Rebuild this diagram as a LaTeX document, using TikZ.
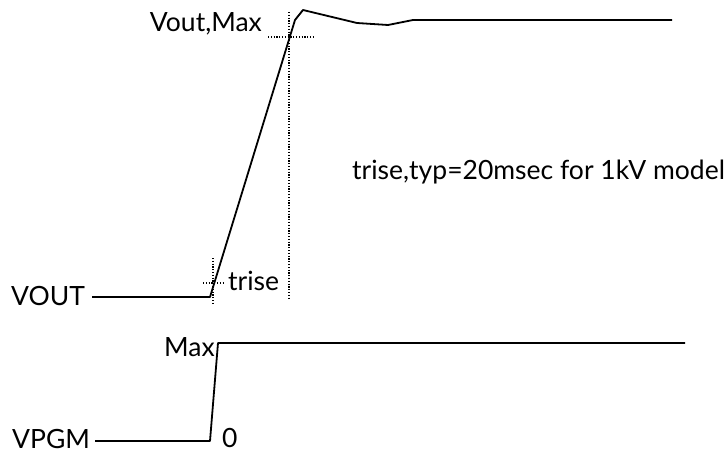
\documentclass[tikz,border=0pt]{standalone}
\usepackage{fontspec}
\setmainfont{Lato}
\begin{document}
\begin{tikzpicture}[x=1pt,y=-1pt,
  sig/.style={line width=1.8pt, line join=round},
  guide/.style={line width=1.4pt, dash pattern=on 1.2pt off 1.6pt},
  lbl/.style={font=\fontsize{26.5}{30}\selectfont, inner sep=0pt}]
\useasboundingbox (0,0) rectangle (725,457);
% labels
\node[lbl, anchor=base east] (voutmax) at (262,32) {Vout,Max};
\node[lbl, anchor=base west] (vout) at (11,305) {VOUT};
\node[lbl, anchor=base west] (trise) at (228,290) {trise};
\node[lbl, anchor=base west] (note) at (352,179) {trise,typ=20msec for 1kV model};
\node[lbl, anchor=base west] (vpgm) at (12,448) {VPGM};
\node[lbl, anchor=base east] (max) at (215,356) {Max};
\node[lbl, anchor=base west] (zero) at (222,447) {0};
% coordinates
\coordinate (a0) at (92,297);
\coordinate (a1) at (210,297);
\coordinate (a2) at (295,20);
\coordinate (a3) at (303,10);
\coordinate (a4) at (357,23);
\coordinate (a5) at (388,25);
\coordinate (a6) at (413,20);
\coordinate (a7) at (672,20);
\coordinate (b0) at (95,441);
\coordinate (b1) at (210,441);
\coordinate (b2) at (218,343);
\coordinate (b3) at (685,343);
% guides
\coordinate (g1) at (289,12);
\coordinate (g2) at (289,298);
\coordinate (h1) at (268,37);
\coordinate (h2) at (315,37);
\coordinate (g3) at (213,258);
\coordinate (g4) at (213,303);
\coordinate (h3) at (203,283);
\coordinate (h4) at (223,283);
\draw[guide] (g1) -- (g2);
\draw[guide] (h1) -- (h2);
\draw[guide] (g3) -- (g4);
\draw[guide] (h3) -- (h4);
% signals
\draw[sig] (a0) -- (a1) -- (a2) -- (a3) -- (a4) -- (a5) -- (a6) -- (a7);
\draw[sig] (b0) -- (b1) -- (b2) -- (b3);
\end{tikzpicture}
\end{document}
